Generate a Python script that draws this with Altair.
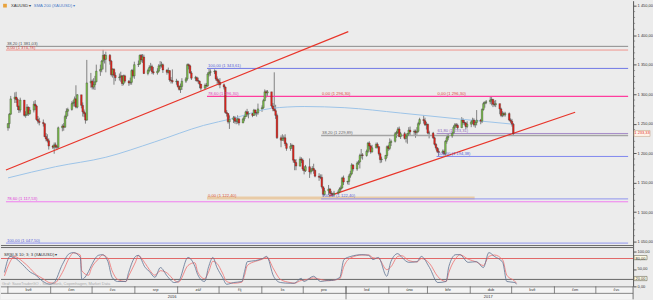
import altair as alt
import pandas as pd

# ---------------- daily candles: (close, high, low) ----------------
first_open = 1243
apr16 = [(1250,1251,1238),(1266,1268,1242),(1292,1297,1265)]
may16 = [(1295,1303,1285),(1291,1304,1285),(1279,1294,1273),(1273,1281,1268),(1290,1294,1269),
         (1264,1290,1262),(1265,1271,1260),(1278,1283,1263),(1267,1279,1263),(1273,1278,1265),
         (1283,1288,1269),(1280,1290,1273),(1257,1282,1255),(1254,1263,1250),(1252,1260,1247),
         (1250,1257,1245),(1228,1250,1227),(1224,1234,1220),(1221,1232,1218),(1212,1225,1206),
         (1210,1214,1207),(1214,1218,1199)]
jun16 = [(1211,1218,1208),(1210,1214,1205),(1243,1245,1208),(1246,1249,1237),(1244,1251,1238),
         (1262,1265,1243),(1271,1276,1258),(1274,1277,1263),(1284,1288,1272),(1286,1290,1279),
         (1292,1296,1279),(1278,1315,1276),(1299,1300,1276),(1281,1293,1276),(1270,1286,1262),
         (1267,1274,1261),(1256,1269,1250),(1319,1358,1255),(1322,1336,1311),(1312,1325,1308),
         (1316,1327,1308),(1321,1331,1307)]
jul16 = [(1339,1350,1320),(1342,1350,1331),(1356,1358,1337),(1366,1375,1342),(1359,1368,1352),
         (1366,1372,1337),(1356,1368,1350),(1333,1358,1330),(1342,1344,1328),(1332,1344,1316),
         (1328,1337,1322),(1329,1335,1323),(1331,1338,1321),(1318,1332,1314),(1331,1333,1315),
         (1322,1333,1319),(1319,1324,1314),(1320,1328,1316),(1340,1342,1316),(1331,1343,1328),
         (1350,1355,1326)]
aug16 = [(1351,1357,1346),(1366,1367,1350),(1358,1368,1354),(1363,1368,1353),(1335,1367,1334),
         (1340,1343,1332),(1345,1349,1337),(1347,1353,1340),(1338,1350,1334),(1336,1346,1333),
         (1339,1344,1333),(1348,1351,1337),(1348,1356,1343),(1350,1355,1345),(1341,1352,1336),
         (1337,1342,1333),(1340,1345,1335),(1324,1340,1321),(1323,1329,1318),(1321,1342,1318),
         (1322,1326,1316),(1313,1323,1311),(1308,1315,1306)]
sep16 = [(1313,1318,1302),(1322,1327,1307),(1326,1329,1319),(1350,1352,1323),(1348,1352,1342),
         (1336,1350,1334),(1327,1339,1324),(1328,1331,1322),(1323,1330,1321),(1322,1328,1318),
         (1317,1323,1310),(1310,1317,1306),(1315,1318,1309),(1314,1319,1311),(1334,1337,1312),
         (1337,1343,1330),(1338,1342,1331),(1339,1342,1334),(1326,1341,1323),(1323,1330,1317),
         (1320,1326,1315),(1316,1327,1310)]
oct16 = [(1312,1318,1308),(1269,1313,1267),(1267,1273,1262),(1253,1268,1250),(1257,1264,1241),
         (1260,1263,1251),(1254,1263,1250),(1254,1259,1249),(1258,1264,1250),(1251,1260,1247),
         (1258,1260,1251),(1262,1265,1254),(1270,1272,1261),(1266,1275,1262),(1267,1271,1259),
         (1264,1268,1261),(1273,1275,1263),(1268,1274,1264),(1268,1272,1262),(1275,1284,1265),
         (1277,1281,1270)]
nov16 = [(1289,1292,1275),(1304,1308,1288),(1302,1307,1294),(1304,1307,1297),(1280,1289,1277),
         (1275,1285,1271),(1272,1337,1271),(1264,1282,1258),(1226,1267,1224),(1222,1230,1210),
         (1225,1232,1221),(1226,1230,1220),(1216,1232,1212),(1208,1218,1204),(1212,1217,1204),
         (1213,1216,1207),(1188,1214,1184),(1184,1190,1171),(1178,1190,1171),(1190,1194,1177),
         (1188,1193,1183),(1173,1191,1170)]
dec16 = [(1170,1178,1164),(1177,1180,1168),(1168,1191,1158),(1171,1175,1164),(1174,1178,1169),
         (1171,1182,1165),(1161,1172,1159),(1159,1166,1153),(1159,1164,1156),(1143,1164,1140),
         (1130,1143,1122),(1136,1141,1128),(1139,1146,1129),(1132,1141,1124),(1131,1136,1127),
         (1129,1133,1125),(1132,1136,1128),(1134,1137,1130),(1139,1142,1132),(1141,1145,1136),
         (1158,1160,1140),(1151,1162,1146)]
jan17 = [(1152,1153,1147),(1161,1164,1146),(1165,1170,1158),(1180,1183,1163),(1173,1181,1169),
         (1183,1186,1170),(1185,1188,1180),(1196,1199,1174),(1197,1207,1191),(1196,1200,1189),
         (1203,1206,1194),(1217,1219,1200),(1212,1220,1206),(1202,1214,1199),(1209,1214,1201),
         (1215,1218,1208),(1211,1218,1208),(1199,1212,1196),(1189,1201,1183),(1190,1194,1184),
         (1196,1197,1186),(1211,1213,1192)]
feb17 = [(1208,1214,1204),(1218,1225,1205),(1220,1223,1212),(1233,1236,1218),(1235,1238,1226),
         (1241,1244,1232),(1228,1245,1227),(1233,1236,1224),(1225,1236,1223),(1229,1231,1218),
         (1233,1234,1216),(1239,1244,1230),(1236,1245,1230),(1237,1240,1231),(1235,1240,1226),
         (1237,1244,1231),(1250,1253,1235),(1257,1260,1247),(1255,1264,1250),(1248,1260,1246)]
mar17 = [(1249,1253,1240),(1234,1250,1232),(1234,1238,1225),(1226,1236,1224),(1215,1228,1213),
         (1209,1217,1206),(1203,1210,1200),(1201,1208,1194),(1203,1206,1199),(1199,1206,1196),
         (1220,1222,1196),(1226,1231,1216),(1229,1233,1222),(1234,1236,1226),(1244,1247,1232),
         (1248,1251,1241),(1247,1251,1243),(1243,1250,1240),(1256,1261,1243),(1252,1259,1248),
         (1251,1256,1247),(1245,1253,1241),(1249,1254,1242)]
apr17 = [(1253,1256,1244),(1256,1260,1249),(1248,1259,1245),(1252,1255,1243),(1256,1273,1247),
         (1254,1258,1249),(1274,1276,1251),(1284,1287,1272),(1286,1288,1277),(1287,1290,1283),
         (1290,1296,1283),(1291,1295,1281),(1283,1292,1278),(1282,1289,1279),(1284,1290,1278),
         (1275,1277,1266),(1264,1277,1261),(1267,1271,1261),(1265,1270,1262),(1267,1270,1262)]
may17 = [(1256,1269,1254),(1254,1259,1251),(1249,1258,1245),(1233,1251,1229)]

# ---------------- SMA 200 ----------------
sma_dates = ["2016-04-27","2016-06-01","2016-07-08","2016-08-13","2016-09-18","2016-10-10",
             "2016-11-07","2016-12-01","2016-12-31","2017-02-10","2017-03-29","2017-05-04"]
sma_vals = [1158, 1177, 1193, 1219, 1247, 1259, 1276, 1279, 1277, 1268, 1257, 1249]

# ---------------- Fibonacci levels ----------------
fib_price = [1381.03, 1374.78, 1343.61, 1296.30, 1229.89, 1233.31, 1194.38, 1124.0, 1122.40, 1117.53, 1047.50]
fib_start = ["2016-04-26","2016-04-26","2016-09-21","2016-09-21","2016-12-14","2017-03-09",
             "2017-03-09","2016-09-21","2016-12-14","2016-04-26","2016-04-26"]
fib_end = ["2017-07-28","2017-07-28","2017-07-28","2017-07-28","2017-07-28","2017-07-28",
           "2017-07-28","2017-04-06","2017-07-28","2017-07-28","2017-07-28"]
fib_colors = ["#8a8a8a","#f0938c","#7078e6","#ff3d9e","#a4a4a4","#a68bc9","#7f86ee",
              "#e9cba6","#8d92ee","#f07cef","#8f94ee"]
fib_widths = [1, 1, 1, 1.3, 1.6, 1, 1, 3, 1, 1, 1]

lab_text = ["38,20 (1 381,03)","0,00 (1 374,78)","100,00 (1 343,61)","78,60 (1 296,30)",
            "0,00 (1 296,30)","38,20 (1 229,89)","100,00 (1 122,40)","0,00 (1 296,30)",
            "61,80 (1 233,31)","100,00 (1 194,38)","0,00 (1 122,40)","78,60 (1 117,53)",
            "100,00 (1 047,50)"]
lab_date = ["2016-04-26","2016-04-26","2016-09-21","2016-09-21","2016-12-14","2016-12-14",
            "2016-12-14","2017-03-09","2017-03-09","2017-03-09","2016-09-21","2016-04-26","2016-04-26"]
lab_price = [1381.03,1374.78,1343.61,1296.30,1296.30,1229.89,1122.40,1296.30,1233.31,1194.38,
             1122.40,1117.53,1047.50]
lab_colors = ["#555555","#e0463c","#5a64d8","#e040b8","#e0463c","#666666","#5a64d8","#e0463c",
              "#8a64b8","#5a64d8","#d9573a","#e040d8","#5a64d8"]

# ---------------- trend lines ----------------
trend_id = [1, 1, 2, 2]
trend_date = ["2016-04-26", "2017-01-03", "2016-12-20", "2017-06-19"]
trend_price = [1171.5, 1406.0, 1127.6, 1269.4]

# ---------------- stochastic (trading-day index, value) ----------------
k_idx = [1,3,6,10,14,17,21,24,27,31,34,37,40,41,44,46,49,52,54,57,59,63,65,68,70,73,76,78,82,85,
         88,91,96,99,101,104,107,108,111,113,116,119,123,125,127,131,134,137,140,143,148,151,154,
         156,161,164,168,170,174,177,180,186,189,192,194,198,201,204,207,210,214,217,221,225,229,
         231,234,237,241,245,248,252,254,258,261,265,266]
k_val = [40,86,83,63,40,34,14,6,11,63, 94,97,83,20,43,60,89,91,71,26, 14,14,40,86,89,54,43,26,54,29,
         11,14,83,57,34,14,57,83,54,26, 6,11,14,43,71,74,80,86,29,11, 9,9,23,14,29,14,17,17,26,77,
         86,91,89,77,83,29,71,94,83,69, 71,86,54,11,14,57,91,91,69,71, 54,97,86,69,14,11,6]
d_val = [30,70,86,72,50,37,22,10,9,40, 82,96,90,45,32,52,78,90,80,45, 20,14,30,70,88,66,48,32,45,38,
         18,12,60,68,42,22,42,72,66,38, 14,9,12,32,60,72,78,84,50,20, 11,9,17,18,24,20,16,17,22,58,
         82,90,90,82,80,48,56,86,88,74, 70,80,66,28,14,40,80,91,78,70, 60,86,90,76,32,14,9]

# ---------------- time axis ----------------
month_start = ["2016-05-01","2016-06-01","2016-07-01","2016-08-01","2016-09-01","2016-10-01",
               "2016-11-01","2016-12-01","2017-01-01","2017-02-01","2017-03-01","2017-04-01",
               "2017-05-01","2017-06-01","2017-07-01"]
month_lab = ["kvě","čen","čvc","srp","zář","říj","lis","pro","led","úno","bře","dub","kvě","čen","čvc"]
year_lab = ["2016", "2017"]
year_anchor = ["2016-08-28", "2017-04-14"]

# ================= build data frames =================
months_data = [apr16, may16, jun16, jul16, aug16, sep16, oct16, nov16, dec16,
               jan17, feb17, mar17, apr17, may17]
rows = [r for m in months_data for r in m]
bdays = pd.bdate_range("2016-04-27", periods=len(rows))
close = [r[0] for r in rows]
high = [r[1] for r in rows]
low = [r[2] for r in rows]
opn = [first_open] + close[:-1]
candles = pd.DataFrame({
    "date": bdays.strftime("%Y-%m-%dT12:00:00"),
    "open": opn, "close": close, "high": high, "low": low,
    "fill": ["#7cc04a" if c >= o else "#e6241c" for o, c in zip(opn, close)],
})

n = min(len(k_idx), len(k_val), len(d_val))
sdates = [bdays[min(i, len(bdays) - 1)].strftime("%Y-%m-%dT12:00:00") for i in k_idx[:n]]
stoch_k = pd.DataFrame({"date": sdates, "v": k_val[:n]})
stoch_d = pd.DataFrame({"date": sdates, "v": d_val[:n]})

sma = pd.DataFrame({"date": [d + "T12:00:00" for d in sma_dates], "v": sma_vals})
trend = pd.DataFrame({"id": trend_id, "date": [d + "T00:00:00" for d in trend_date], "p": trend_price})
labels = pd.DataFrame({"t": lab_text, "date": [d + "T00:00:00" for d in lab_date],
                       "p": lab_price, "c": lab_colors})

FONT = "Liberation Sans"
W = 635
xs = alt.Scale(domain=[alt.DateTime(year=2016, month=4, date=26),
                       alt.DateTime(year=2017, month=7, date=28)])
ys = alt.Scale(domain=[1041.6, 1458.44], zero=False, nice=False)

label_expr = "replace(replace(format(datum.value, ',.2f'), ',', ' '), '.', ',')"
price_axis = alt.Axis(orient="right", values=list(range(1050, 1451, 50)), labelExpr=label_expr,
                      labelFontSize=4, labelFont=FONT, labelColor="#333", tickSize=3, tickColor="#555",
                      domainColor="#555", labelPadding=1, grid=False, title=None,
                      minExtent=18, maxExtent=18)
XN = alt.X("date:T", scale=xs, axis=None)

one = pd.DataFrame({"a": [0]})

# ---- price panel ----
wicks = alt.Chart(candles).mark_rule(color="#3a3a3a", strokeWidth=0.6).encode(
    x=XN, y=alt.Y("low:Q", scale=ys, axis=price_axis), y2="high:Q")
bodies = alt.Chart(candles).mark_bar(width=1.7, stroke="#2a2a2a", strokeWidth=0.3).encode(
    x=XN, y=alt.Y("open:Q", scale=ys, axis=price_axis), y2="close:Q",
    fill=alt.Fill("fill:N", scale=None))

fib_layers = []
for i in range(len(fib_price)):
    d = pd.DataFrame({"s": [fib_start[i] + "T00:00:00"], "e": [fib_end[i] + "T00:00:00"],
                      "p": [fib_price[i]]})
    fib_layers.append(alt.Chart(d).mark_rule(color=fib_colors[i], strokeWidth=fib_widths[i]).encode(
        x=alt.X("s:T", scale=xs, axis=None), x2="e:T",
        y=alt.Y("p:Q", scale=ys, axis=price_axis)))

fib_text = alt.Chart(labels).mark_text(align="left", baseline="bottom", dx=1, dy=-0.5,
                                       fontSize=4.2, font=FONT).encode(
    x=XN, y=alt.Y("p:Q", scale=ys, axis=price_axis), text="t:N",
    color=alt.Color("c:N", scale=None))

sma_line = alt.Chart(sma).mark_line(color="#9cc4e8", strokeWidth=1, interpolate="monotone").encode(
    x=XN, y=alt.Y("v:Q", scale=ys, axis=price_axis))

trend_lines = alt.Chart(trend).mark_line(color="#e8352a", strokeWidth=1.2).encode(
    x=XN, y=alt.Y("p:Q", scale=ys, axis=price_axis), detail="id:N")

minor = alt.Chart(pd.DataFrame({"p": [v for v in range(1050, 1451, 10) if v % 50]})).mark_rule(
    color="#666", strokeWidth=0.6).encode(
    y=alt.Y("p:Q", scale=ys, axis=price_axis), x=alt.value(W), x2=alt.value(W + 2))

cur_box = alt.Chart(pd.DataFrame({"p": [1228.3], "b": [1238.4]})).mark_rect(
    fill="#fff4ea", stroke="#c8a88a", strokeWidth=0.6).encode(
    y=alt.Y("p:Q", scale=ys, axis=price_axis), y2="b:Q", x=alt.value(W + 1), x2=alt.value(W + 17))
cur_txt = alt.Chart(pd.DataFrame({"p": [1233.33], "t": ["1 233,33"]})).mark_text(
    fontSize=4, font=FONT, color="#e0302a", align="center", baseline="middle").encode(
    y=alt.Y("p:Q", scale=ys, axis=price_axis), x=alt.value(W + 9), text="t:N")

icon = alt.Chart(one).mark_square(color="#e9a23b", size=14, opacity=1).encode(
    x=alt.value(4), y=alt.value(5))
hdr1 = alt.Chart(one).mark_text(text="XAUUSD ▾", fontSize=4.2, font=FONT, color="#333",
                                align="left", baseline="middle").encode(x=alt.value(10), y=alt.value(5))
hdr2 = alt.Chart(one).mark_text(text="SMA 200 (XAUUSD) ▾", fontSize=4.2, font=FONT, color="#4a7cc9",
                                align="left", baseline="middle").encode(x=alt.value(33), y=alt.value(5))
sep = alt.Chart(one).mark_rule(color="#666", strokeWidth=1).encode(
    x=alt.value(0), x2=alt.value(W), y=alt.value(246))

price = alt.layer(wicks, *fib_layers, sma_line, trend_lines, bodies, fib_text, minor,
                  cur_box, cur_txt, icon, hdr1, hdr2, sep).properties(
    width=W, height=247, view=alt.ViewBackground(fill="#ececec", stroke=None))

# ---- stochastic panel ----
ss = alt.Scale(domain=[0, 114.3], nice=False, zero=False)
stoch_axis = alt.Axis(orient="right", values=[0, 50, 100], labelExpr=label_expr, labelFontSize=4,
                      labelFont=FONT, labelColor="#333", tickSize=3, tickColor="#555",
                      domainColor="#555", labelPadding=1, grid=False, title=None,
                      minExtent=18, maxExtent=18)
lvl80 = alt.Chart(pd.DataFrame({"v": [80]})).mark_rule(strokeWidth=0.9, color="#e05a5a").encode(
    y=alt.Y("v:Q", scale=ss, axis=stoch_axis), x=alt.value(0), x2=alt.value(W))
lvl20 = alt.Chart(pd.DataFrame({"v": [20]})).mark_rule(strokeWidth=0.9, color="#555555").encode(
    y=alt.Y("v:Q", scale=ss, axis=stoch_axis), x=alt.value(0), x2=alt.value(W))
d_line = alt.Chart(stoch_d).mark_line(strokeWidth=0.8, interpolate="monotone", clip=True,
                                      color="#ee6f6f").encode(
    x=XN, y=alt.Y("v:Q", scale=ss, axis=stoch_axis))
k_line = alt.Chart(stoch_k).mark_line(strokeWidth=0.8, interpolate="monotone", clip=True,
                                      color="#5f7191").encode(
    x=XN, y=alt.Y("v:Q", scale=ss, axis=stoch_axis))
st_top = alt.Chart(one).mark_rule(color="#666", strokeWidth=1).encode(
    x=alt.value(0), x2=alt.value(W), y=alt.value(1))
st_leg = alt.Chart(one).mark_text(text="SRSI-S 10; 3; 3 (XAUUSD) ▾", fontSize=4.2, font=FONT,
                                  color="#333", align="left", baseline="middle").encode(
    x=alt.value(3), y=alt.value(8))
st_wm = alt.Chart(one).mark_text(text="Graf: SaxoTraderGO - Saxo Bank, Copenhagen, Market Data",
                                 fontSize=4, font=FONT, color="#aaaaaa", align="left",
                                 baseline="middle").encode(x=alt.value(1), y=alt.value(37.5))
box_df = pd.DataFrame({"v": [76.5, 16.5], "hi": [88.5, 28.5], "m": [80, 20], "t": ["80,00", "20,00"]})
st_box = alt.Chart(box_df).mark_rect(fill="#fffbe6", stroke="#6a6a5a", strokeWidth=0.6).encode(
    y=alt.Y("v:Q", scale=ss, axis=stoch_axis), y2="hi:Q", x=alt.value(W + 1), x2=alt.value(W + 14))
st_boxt = alt.Chart(box_df).mark_text(fontSize=4, font=FONT, color="#333", align="center",
                                      baseline="middle").encode(
    y=alt.Y("m:Q", scale=ss, axis=stoch_axis), x=alt.value(W + 7.5), text="t:N")

stochc = alt.layer(lvl80, lvl20, d_line, k_line, st_top, st_leg, st_wm, st_box, st_boxt).properties(
    width=W, height=40, view=alt.ViewBackground(fill="#ececec", stroke=None))

# ---- date axis ----
mdf = pd.DataFrame({"s": [m + "T00:00:00" for m in month_start], "lab": month_lab})
mdf["mid"] = (pd.to_datetime(mdf["s"]) + pd.Timedelta(days=15)).dt.strftime("%Y-%m-%dT00:00:00")
ydf = pd.DataFrame({"d": [y + "T00:00:00" for y in year_anchor], "t": year_lab})
div = alt.Chart(mdf).mark_rule(color="#555", strokeWidth=0.7).encode(
    x=alt.X("s:T", scale=xs, axis=None), y=alt.value(0), y2=alt.value(7))
mtxt = alt.Chart(mdf).mark_text(fontSize=4, font=FONT, color="#333", baseline="middle").encode(
    x=alt.X("mid:T", scale=xs, axis=None), y=alt.value(3.8), text="lab:N")
ytxt = alt.Chart(ydf).mark_text(fontSize=4, font=FONT, color="#333", baseline="middle").encode(
    x=alt.X("d:T", scale=xs, axis=None), y=alt.value(10.3), text="t:N")
ydiv = alt.Chart(pd.DataFrame({"d": ["2017-01-01T00:00:00"]})).mark_rule(
    color="#555", strokeWidth=0.7).encode(
    x=alt.X("d:T", scale=xs, axis=None), y=alt.value(0), y2=alt.value(13))
hl = alt.Chart(pd.DataFrame({"y": [0.5, 7]})).mark_rule(color="#555", strokeWidth=0.7).encode(
    y=alt.Y("y:Q", scale=None), x=alt.value(0), x2=alt.value(W))
vr = alt.Chart(one).mark_rule(color="#555", strokeWidth=0.8).encode(
    x=alt.value(W), y=alt.value(0), y2=alt.value(13))
datec = alt.layer(hl, div, ydiv, mtxt, ytxt, vr).properties(
    width=W, height=13, view=alt.ViewBackground(fill="#f4f4f4", stroke=None))

chart = alt.vconcat(price, stochc, datec, spacing=0, bounds="flush").properties(
    padding=0, background="#ececec"
).configure_view(stroke=None)

chart.save("out.html", embed_options={"renderer": "svg", "actions": False})
